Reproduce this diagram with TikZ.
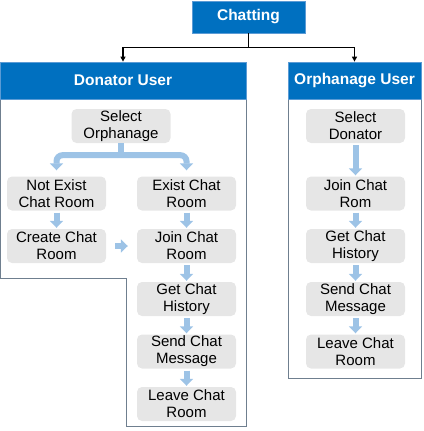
\documentclass[tikz,border=0pt]{standalone}
\usepackage{fontspec}
\setmainfont{Liberation Sans}
\usetikzlibrary{arrows.meta}
\definecolor{hdblue}{HTML}{0070C0}
\definecolor{hdedge}{HTML}{5B9BD5}
\definecolor{boxgray}{HTML}{E6E6E6}
\definecolor{flowblue}{HTML}{9DC3E6}
\definecolor{panelgray}{HTML}{6F7F8F}
\tikzset{
  header/.style={fill=hdblue,draw=hdedge,line width=0.8pt,text=white,inner sep=0pt,
    font=\fontsize{15.5}{17}\selectfont\bfseries},
  stepbox/.style={fill=boxgray,rounded corners=5pt,minimum width=99pt,minimum height=34pt,
    inner sep=0pt,align=center,font=\fontsize{15}{17}\selectfont},
  flow/.style={flowblue,line width=6pt,-{Triangle[width=13pt,length=7pt]}},
  conn/.style={black,line width=1.2pt,-{Triangle[width=5pt,length=5pt]}},
  panel/.style={panelgray,line width=1pt}
}
\begin{document}
\begin{tikzpicture}[x=1pt,y=-1pt]
\useasboundingbox (0,0) rectangle (423,431);
% panels
\draw[panel] (0.5,99) -- (0.5,278) -- (126,278) -- (126,426) -- (246,426) -- (246,99);
\draw[panel] (288,99) rectangle (421,378);
% headers
\node[header,minimum width=113pt,minimum height=32pt] (chat) at (248.5,17) {Chatting};
\node[header,minimum width=246pt,minimum height=37pt] (don) at (123,80.5) {Donator User};
\node[header,minimum width=133pt,minimum height=37pt] (orp) at (354.5,80.5) {Orphanage User};
\draw[conn] (chat.south) -- ++(0,14) coordinate (top) -| (don.north);
\draw[conn] (top) -| (orp.north);
% donator side
\node[stepbox] (so) at (121,126) {Select\\Orphanage};
\node[stepbox] (ne) at (56.5,193.5) {Not Exist\\Chat Room};
\node[stepbox] (ec) at (186.5,193.5) {Exist Chat\\Room};
\node[stepbox] (cr) at (56.5,246) {Create Chat\\Room};
\node[stepbox] (jr) at (186.5,246) {Join Chat\\Room};
\node[stepbox] (gh) at (186.5,299) {Get Chat\\History};
\node[stepbox] (sm) at (186.5,351.5) {Send Chat\\Message};
\node[stepbox] (lr) at (186.5,404) {Leave Chat\\Room};
% orphanage side
\node[stepbox] (sd) at (355.5,126) {Select\\Donator};
\node[stepbox] (jo) at (355.5,193.5) {Join Chat\\Rom};
\node[stepbox] (og) at (355.5,246) {Get Chat\\History};
\node[stepbox] (os) at (355.5,299) {Send Chat\\Message};
\node[stepbox] (ol) at (355.5,351.5) {Leave Chat\\Room};
% flow arrows
\draw[flowblue,line width=6pt] (so.south) -- ++(0,12) coordinate (br);
\draw[flow,rounded corners=6pt,shorten >=6pt] (br) -| (ne.north);
\draw[flow,rounded corners=6pt,shorten >=6pt] (br) -| (ec.north);
\foreach \a/\b in {ne/cr,ec/jr,jr/gh,gh/sm,sm/lr,sd/jo,jo/og,og/os,os/ol}
\draw[flow,shorten <=2pt,shorten >=1pt] (\a) -- (\b);
\draw[flow,shorten <=9pt,shorten >=9pt] (cr) -- (jr);
\end{tikzpicture}
\end{document}
